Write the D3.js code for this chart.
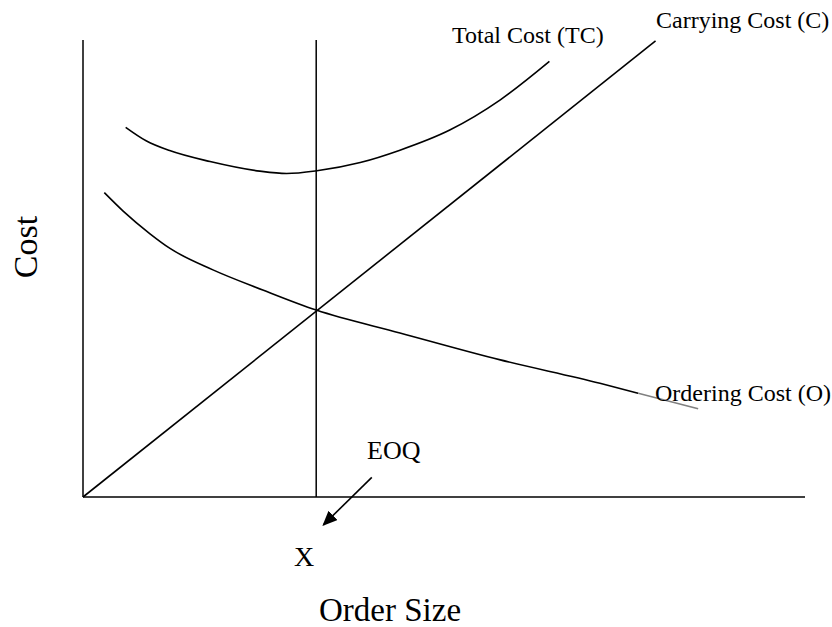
<!DOCTYPE html>
<html>
<head>
<meta charset="utf-8">
<script src="https://cdn.jsdelivr.net/npm/d3@7/dist/d3.min.js"></script>
<style>
  body { margin: 0; background: #fff; }
  svg text { font-family: "Liberation Serif", "Times New Roman", serif; fill: #000; }
</style>
</head>
<body>
<div id="chart"></div>
<script>
// order size (x) vs cost (y), both in 0..100 units
const carryingCost = [[0, 0], [79.3, 99.8]];
const orderingCost = [
  [2.95, 66.6], [5.6, 62.5], [9.28, 57.6], [12.05, 54.4],
  [18.0, 49.7], [24.9, 45.3], [32.3, 40.9], [43.9, 35.9], [57.8, 30.0],
  [71.6, 24.9], [76.9, 22.7]
];
const orderingTail = [[76.9, 22.7], [85.2, 19.3]];
const totalCost = [
  [5.91, 80.9], [8.8, 77.9], [12.0, 75.8], [17.6, 73.4], [24.5, 71.3],
  [28.2, 70.8], [32.4, 71.4], [38.4, 73.2], [43.9, 75.9], [50.8, 80.3],
  [57.8, 86.9], [64.6, 95.3]
];
const eoq = 32.3;
const eoqArrow = [[40.0, 4.3], [33.3, -6.1]];
const curveLabels = ["Total Cost (TC)", "Carrying Cost (C)", "Ordering Cost (O)"];
const axisTitles = { x: "Order Size", y: "Cost" };

(() => {
  const W = 832, H = 627;
  const svg = d3.select("#chart").append("svg").attr("width", W).attr("height", H);

  const x = d3.scaleLinear().domain([0, 100]).range([83, 805]);
  const y = d3.scaleLinear().domain([0, 100]).range([497, 40]);

  const line = d3.line().x(d => x(d[0])).y(d => y(d[1])).curve(d3.curveMonotoneX);

  svg.append("defs").append("marker")
    .attr("id", "arrowhead")
    .attr("viewBox", "0 0 10 10")
    .attr("refX", 9).attr("refY", 5)
    .attr("markerWidth", 15).attr("markerHeight", 13)
    .attr("markerUnits", "userSpaceOnUse")
    .attr("orient", "auto")
    .attr("preserveAspectRatio", "none")
    .append("path").attr("d", "M0,0 L10,5 L0,10 z").attr("fill", "#000");

  // axes as plain lines (no ticks)
  svg.append("line")
    .attr("x1", x(0)).attr("x2", x(0)).attr("y1", y(0)).attr("y2", y(100))
    .attr("stroke", "#000").attr("stroke-width", 1.5);
  svg.append("line")
    .attr("x1", x(0)).attr("x2", x(100)).attr("y1", y(0)).attr("y2", y(0))
    .attr("stroke", "#000").attr("stroke-width", 1.5);

  // EOQ vertical
  svg.append("line")
    .attr("x1", x(eoq)).attr("x2", x(eoq)).attr("y1", y(0)).attr("y2", y(100))
    .attr("stroke", "#000").attr("stroke-width", 1.5);

  svg.append("path").datum(carryingCost).attr("d", line)
    .attr("fill", "none").attr("stroke", "#000").attr("stroke-width", 1.6);
  svg.append("path").datum(orderingCost).attr("d", line)
    .attr("fill", "none").attr("stroke", "#000").attr("stroke-width", 1.6);
  svg.append("path").datum(orderingTail).attr("d", line)
    .attr("fill", "none").attr("stroke", "#808080").attr("stroke-width", 1.6);
  svg.append("path").datum(totalCost).attr("d", line)
    .attr("fill", "none").attr("stroke", "#000").attr("stroke-width", 1.6);

  svg.append("line")
    .attr("x1", x(eoqArrow[0][0])).attr("y1", y(eoqArrow[0][1]))
    .attr("x2", x(eoqArrow[1][0])).attr("y2", y(eoqArrow[1][1]))
    .attr("stroke", "#000").attr("stroke-width", 1.6)
    .attr("marker-end", "url(#arrowhead)");

  // curve labels
  const labelPos = [[452, 43], [656, 28], [655, 401]];
  svg.selectAll("text.curve-label")
    .data(curveLabels)
    .join("text")
    .attr("class", "curve-label")
    .attr("x", (d, i) => labelPos[i][0])
    .attr("y", (d, i) => labelPos[i][1])
    .attr("font-size", 24)
    .text(d => d);

  svg.append("text").attr("x", 367).attr("y", 459).attr("font-size", 26).text("EOQ");
  svg.append("text").attr("x", 294).attr("y", 566).attr("font-size", 28).text("X");

  svg.append("text").attr("x", 319).attr("y", 621).attr("font-size", 33).text(axisTitles.x);
  svg.append("text")
    .attr("transform", "translate(37,247) rotate(-90)")
    .attr("text-anchor", "middle")
    .attr("font-size", 34)
    .text(axisTitles.y);
})();
</script>
</body>
</html>
